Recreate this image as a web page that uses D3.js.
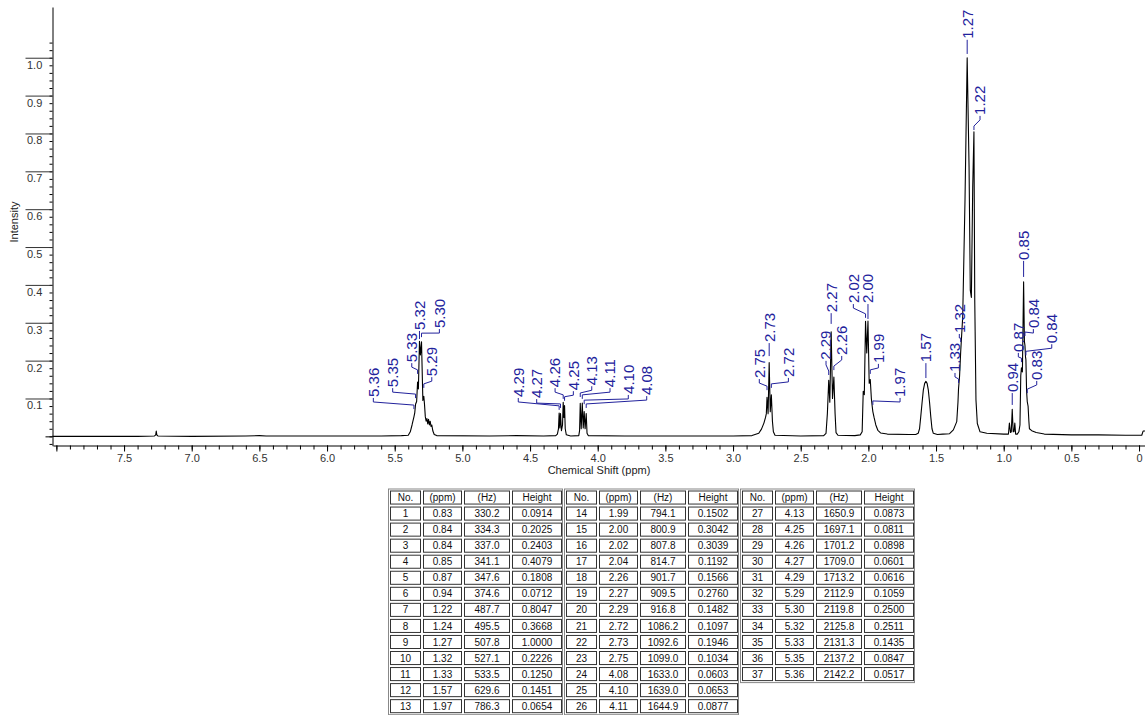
<!DOCTYPE html>
<html>
<head>
<meta charset="utf-8">
<script src="https://cdn.jsdelivr.net/npm/d3@7"></script>
<style>
  body { margin: 0; background: #fff; }
  svg text { font-family: "Liberation Sans", Arial, sans-serif; }
</style>
</head>
<body>
<svg id="vis" width="1145" height="715"></svg>
<script>
// ---- data ----

// peak table, as printed under the spectrum
var peakPpm = ["0.83","0.84","0.84","0.85","0.87","0.94","1.22","1.24","1.27","1.32","1.33","1.57","1.97",
  "1.99","2.00","2.02","2.04","2.26","2.27","2.29","2.72","2.73","2.75","4.08","4.10","4.11",
  "4.13","4.25","4.26","4.27","4.29","5.29","5.30","5.32","5.33","5.35","5.36"];
var peakHz = ["330.2","334.3","337.0","341.1","347.6","374.6","487.7","495.5","507.8","527.1","533.5","629.6","786.3",
  "794.1","800.9","807.8","814.7","901.7","909.5","916.8","1086.2","1092.6","1099.0","1633.0","1639.0","1644.9",
  "1650.9","1697.1","1701.2","1709.0","1713.2","2112.9","2119.8","2125.8","2131.3","2137.2","2142.2"];
var peakHeight = ["0.0914","0.2025","0.2403","0.4079","0.1808","0.0712","0.8047","0.3668","1.0000","0.2226","0.1250","0.1451","0.0654",
  "0.1502","0.3042","0.3039","0.1192","0.1566","0.2760","0.1482","0.1097","0.1946","0.1034","0.0603","0.0653","0.0877",
  "0.0873","0.0811","0.0898","0.0601","0.0616","0.1059","0.2500","0.2511","0.1435","0.0847","0.0517"];
var tableHeader = ["No.", "(ppm)", "(Hz)", "Height"];

// spectrum trace [ppm, intensity]
var spectrum = [
  [8.03,0.000],[7.40,0.000],[7.275,0.001],[7.266,0.004],[7.262,0.014],[7.258,0.004],[7.25,0.001],[7.00,0.000],
  [6.60,0.001],[6.50,0.002],[6.45,0.001],[6.00,0.001],[5.60,0.001],[5.45,0.002],
  [5.40,0.003],[5.385,0.012],[5.372,0.030],[5.358,0.0517],[5.352,0.062],[5.346,0.0847],[5.338,0.092],[5.331,0.1435],
  [5.325,0.125],[5.317,0.2511],[5.310,0.215],[5.302,0.2500],[5.292,0.095],[5.285,0.1059],[5.280,0.085],[5.274,0.052],
  [5.268,0.040],[5.262,0.047],[5.256,0.033],[5.250,0.045],[5.244,0.030],[5.238,0.040],[5.232,0.026],[5.226,0.030],
  [5.218,0.014],[5.208,0.005],[5.19,0.002],
  [4.80,0.001],[4.60,0.002],[4.40,0.001],[4.31,0.002],
  [4.298,0.006],[4.290,0.020],[4.285,0.0616],[4.280,0.022],[4.275,0.0601],[4.268,0.015],[4.260,0.030],[4.255,0.0898],
  [4.250,0.050],[4.245,0.0811],[4.240,0.020],[4.232,0.004],[4.20,0.001],
  [4.14,0.002],[4.134,0.015],[4.129,0.0873],[4.122,0.020],[4.114,0.0877],[4.107,0.022],[4.100,0.0653],[4.093,0.020],
  [4.085,0.0603],[4.079,0.008],[4.07,0.002],
  [3.80,0.001],[3.40,0.001],[3.00,0.001],[2.86,0.002],
  [2.81,0.008],[2.79,0.019],[2.772,0.035],[2.760,0.050],[2.754,0.060],[2.749,0.1034],[2.741,0.060],[2.733,0.1946],
  [2.725,0.065],[2.717,0.1097],[2.709,0.040],[2.702,0.012],[2.690,0.003],[2.50,0.001],[2.33,0.002],
  [2.313,0.008],[2.303,0.060],[2.293,0.1482],[2.285,0.090],[2.275,0.2760],[2.265,0.100],[2.255,0.1566],[2.246,0.060],
  [2.239,0.010],[2.225,0.003],[2.10,0.002],[2.06,0.004],
  [2.046,0.012],[2.038,0.1192],[2.030,0.110],[2.021,0.3039],[2.012,0.220],[2.003,0.3042],[1.994,0.140],[1.986,0.1502],
  [1.978,0.100],[1.972,0.080],[1.967,0.0654],[1.958,0.050],[1.945,0.030],[1.930,0.016],[1.910,0.009],[1.86,0.006],[1.70,0.005],
  [1.65,0.005],[1.632,0.008],[1.622,0.020],[1.613,0.052],[1.603,0.090],[1.594,0.122],[1.584,0.140],[1.575,0.1451],
  [1.566,0.140],[1.557,0.122],[1.548,0.090],[1.539,0.052],[1.530,0.020],[1.520,0.008],[1.49,0.005],[1.45,0.006],[1.40,0.007],
  [1.372,0.017],[1.347,0.039],[1.338,0.090],[1.334,0.1250],[1.326,0.160],[1.318,0.2226],[1.303,0.316],[1.286,0.624],
  [1.270,1.0000],[1.256,0.711],[1.247,0.386],[1.239,0.3668],[1.229,0.659],[1.220,0.8047],[1.214,0.360],[1.205,0.096],
  [1.195,0.034],[1.175,0.012],[1.125,0.008],[1.00,0.006],
  [0.965,0.006],[0.958,0.035],[0.950,0.010],[0.944,0.012],[0.937,0.0712],[0.930,0.012],[0.924,0.012],[0.918,0.035],
  [0.912,0.006],[0.90,0.006],
  [0.888,0.012],[0.880,0.030],[0.874,0.160],[0.869,0.1808],[0.862,0.170],[0.853,0.4079],[0.847,0.250],[0.843,0.2403],
  [0.839,0.210],[0.836,0.2025],[0.831,0.120],[0.826,0.0914],[0.820,0.080],[0.814,0.040],[0.810,0.020],[0.793,0.015],
  [0.76,0.010],[0.70,0.006],[0.50,0.004],[0.30,0.004],[0.10,0.003],[-0.02,0.003],[-0.03,0.014],[-0.044,0.014]
];

// peak labels: text, peak ppm, label ppm, label foot intensity, leader tip intensity
var peakLabels = [
  ["5.36",5.358,5.658,0.104,0.072],["5.35",5.346,5.515,0.130,0.101],["5.33",5.331,5.374,0.196,0.165],
  ["5.32",5.317,5.317,0.281,0.257],["5.30",5.302,5.170,0.286,0.262],["5.29",5.285,5.226,0.159,0.128],
  ["4.29",4.285,4.587,0.104,0.070],["4.27",4.275,4.451,0.101,0.075],["4.26",4.255,4.315,0.130,0.099],
  ["4.25",4.245,4.180,0.122,0.094],["4.13",4.129,4.044,0.135,0.104],["4.11",4.114,3.909,0.130,0.099],
  ["4.10",4.100,3.774,0.112,0.085],["4.08",4.085,3.638,0.109,0.075],
  ["2.75",2.749,2.806,0.154,0.122],["2.73",2.733,2.733,0.249,0.212],["2.72",2.717,2.591,0.157,0.128],
  ["2.29",2.293,2.313,0.202,0.162],["2.27",2.275,2.275,0.328,0.297],["2.26",2.255,2.197,0.215,0.175],
  ["2.02",2.021,2.111,0.352,0.313],["2.00",2.003,2.003,0.352,0.310],["1.99",1.986,1.926,0.194,0.165],
  ["1.97",1.967,1.766,0.104,0.083],["1.57",1.575,1.575,0.196,0.154],
  ["1.33",1.334,1.360,0.170,0.141],["1.32",1.318,1.328,0.273,0.249],["1.27",1.270,1.270,1.050,1.010],
  ["1.22",1.220,1.175,0.849,0.809],
  ["0.94",0.937,0.937,0.117,0.083],["0.87",0.869,0.892,0.223,0.196],["0.85",0.853,0.853,0.466,0.421],
  ["0.84",0.843,0.781,0.286,0.265],["0.84",0.836,0.645,0.246,0.214],["0.83",0.826,0.756,0.149,0.114]
];

// axis ticks
var xMajor = [8.0, 7.5, 7.0, 6.5, 6.0, 5.5, 5.0, 4.5, 4.0, 3.5, 3.0, 2.5, 2.0, 1.5, 1.0, 0.5, 0];
var xMinor = d3.range(0, 81).map(function (i) { return i / 10; });
var yMajor = [0.1, 0.2, 0.3, 0.4, 0.5, 0.6, 0.7, 0.8, 0.9, 1.0];
var yMinor = d3.range(-1, 53).map(function (i) { return i / 50; });

// ---- drawing ----
var labelBlue = '#22229c';
var svg = d3.select('#vis');

var x = d3.scaleLinear().domain([8.025, -0.044]).range([53, 1145]);
var y = d3.scaleLinear().domain([-0.0247, 1.134]).range([445.7, 7]);

// y axis: small minor ticks, long major ticks with the label hanging below
var yAxisMinor = svg.append('g')
  .attr('transform', 'translate(52.5,0)')
  .call(d3.axisLeft(y).tickValues(yMinor).tickSize(3).tickSizeOuter(0).tickFormat(''));
yAxisMinor.select('.domain').attr('stroke', '#000');

var yAxisMajor = svg.append('g')
  .attr('transform', 'translate(52.5,0)')
  .call(d3.axisLeft(y).tickValues(yMajor).tickSize(27).tickFormat(d3.format('.1f')));
yAxisMajor.select('.domain').remove();
yAxisMajor.selectAll('line').attr('stroke', '#333');
yAxisMajor.selectAll('text')
  .attr('x', -25.5)
  .attr('dy', '0.95em')
  .attr('text-anchor', 'start')
  .attr('fill', '#333')
  .style('font-size', '11px');

// zero tick, a bit longer than the minor ones
svg.append('g')
  .attr('transform', 'translate(52.5,0)')
  .call(d3.axisLeft(y).tickValues([0]).tickSize(7).tickFormat(''))
  .select('.domain').remove();

// x axis
var xAxisMinor = svg.append('g')
  .attr('transform', 'translate(0,445.5)')
  .call(d3.axisBottom(x).tickValues(xMinor).tickSize(4).tickSizeOuter(0).tickFormat(''));
xAxisMinor.select('.domain').attr('stroke', '#000');

var xAxisMajor = svg.append('g')
  .attr('transform', 'translate(0,445.5)')
  .call(d3.axisBottom(x).tickValues(xMajor).tickSize(6)
    .tickFormat(function (d) { return d === 0 ? '0' : (d === 8 ? '' : d.toFixed(1)); }));
xAxisMajor.select('.domain').remove();
xAxisMajor.selectAll('text').attr('fill', '#333').style('font-size', '11px');

// axis titles
svg.append('text')
  .attr('x', 599).attr('y', 474)
  .attr('text-anchor', 'middle')
  .attr('fill', '#222')
  .style('font-size', '11px')
  .text('Chemical Shift (ppm)');

svg.append('text')
  .attr('transform', 'translate(18,222) rotate(-90)')
  .attr('text-anchor', 'middle')
  .attr('fill', '#222')
  .style('font-size', '11px')
  .text('Intensity');

// spectrum
var line = d3.line()
  .x(function (d) { return x(d[0]); })
  .y(function (d) { return y(d[1]); });

svg.append('path')
  .datum(spectrum)
  .attr('d', line)
  .attr('fill', 'none')
  .attr('stroke', '#000')
  .attr('stroke-width', 1.1)
  .attr('stroke-linejoin', 'round');

// peak labels with bent leaders
var labels = svg.append('g').attr('class', 'peak-labels');

peakLabels.forEach(function (p) {
  var px = x(p[1]);
  var tx = x(p[2]);
  var foot = y(p[3]);
  var tip = y(p[4]);
  var pts;
  if (Math.abs(tx - px) < 0.5) {
    pts = [[px, foot + 1], [px, tip]];
  } else {
    pts = [[tx, foot + 1], [tx, foot + 5], [px, tip - 4], [px, tip]];
  }
  labels.append('path')
    .attr('d', d3.line()(pts))
    .attr('fill', 'none')
    .attr('stroke', labelBlue)
    .attr('stroke-width', 1);

  labels.append('text')
    .attr('transform', 'translate(' + tx + ',' + foot + ') rotate(-90)')
    .attr('dy', '0.36em')
    .attr('text-anchor', 'start')
    .attr('fill', labelBlue)
    .style('font-size', '15px')
    .text(p[0]);
});

// ---- peak table: three blocks of at most 13 rows ----
var tableLeft = [388, 564, 740];
var tableTop = 488.5;
var rowH = 16.05;
var colW = [33, 41, 48, 52];
var colX = [0, 33, 74, 122];
var tableW = 174;

var rows = peakPpm.map(function (d, i) {
  return [String(i + 1), d, peakHz[i], peakHeight[i]];
});
var blocks = [rows.slice(0, 13), rows.slice(13, 26), rows.slice(26)];

blocks.forEach(function (block, b) {
  var tg = svg.append('g')
    .attr('transform', 'translate(' + tableLeft[b] + ',' + tableTop + ')');
  var all = [tableHeader].concat(block);

  tg.append('rect')
    .attr('x', 0.5).attr('y', 0.5)
    .attr('width', tableW).attr('height', all.length * rowH + 1)
    .attr('fill', 'none')
    .attr('stroke', '#888');

  all.forEach(function (r, ri) {
    r.forEach(function (cell, ci) {
      tg.append('rect')
        .attr('x', colX[ci] + 2.5).attr('y', ri * rowH + 2.5)
        .attr('width', colW[ci] - 3).attr('height', rowH - 3)
        .attr('fill', 'none')
        .attr('stroke', '#333');
      tg.append('text')
        .attr('x', colX[ci] + 1 + colW[ci] / 2)
        .attr('y', ri * rowH + 1 + rowH / 2 + 3.6)
        .attr('text-anchor', 'middle')
        .attr('fill', '#111')
        .style('font-size', '10px')
        .text(cell);
    });
  });
});
</script>
</body>
</html>
